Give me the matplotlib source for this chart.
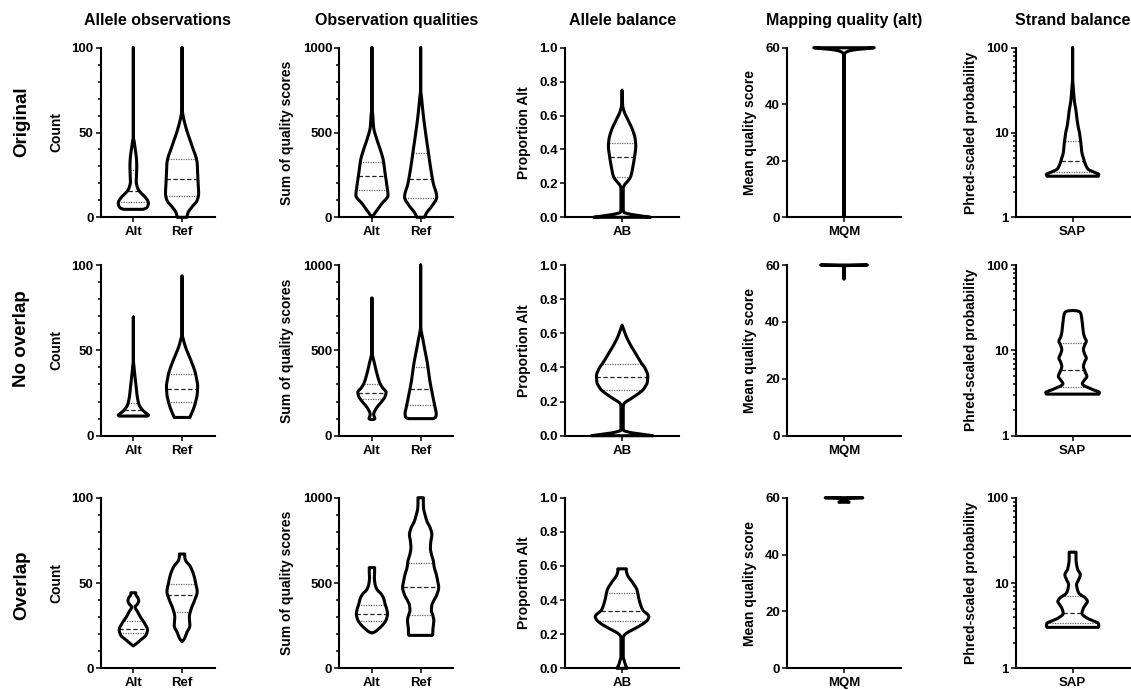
import numpy as np
import matplotlib
matplotlib.use("Agg")
import matplotlib.pyplot as plt
from matplotlib.ticker import MultipleLocator, LogLocator, NullFormatter, FixedLocator, FixedFormatter

plt.rcParams['font.family'] = ['Liberation Sans', 'DejaVu Sans']
plt.rcParams['font.weight'] = 'bold'

# ---- labels ----
row_names = ["Original", "No overlap", "Overlap"]
col_titles = ["Allele observations", "Observation qualities", "Allele balance",
              "Mapping quality (alt)", "Strand balance"]
y_labels = ["Count", "Sum of quality scores", "Proportion Alt",
            "Mean quality score", "Phred-scaled probability"]
x_cats = [["Alt", "Ref"], ["Alt", "Ref"], ["AB"], ["MQM"], ["SAP"]]

# ---- violin profiles: y value, half width (category units), quartiles ----
# Original
cnt_alt_orig_y = [4.7, 5.5, 7, 8.5, 10, 12, 14, 16, 18, 21, 25, 30, 34, 38, 42, 45, 47, 100]
cnt_alt_orig_w = [0.2, 0.27, 0.3, 0.31, 0.29, 0.24, 0.17, 0.11, 0.08, 0.06, 0.065, 0.07, 0.065, 0.05, 0.03, 0.015, 0.0, 0.0]
cnt_alt_orig_q = [8.8, 15.7, 27.9]
cnt_ref_orig_y = [0, 2.5, 6, 10, 14, 20, 26, 32, 36, 40, 45, 50, 55, 60, 65, 100]
cnt_ref_orig_w = [0.1, 0.12, 0.2, 0.31, 0.34, 0.33, 0.32, 0.31, 0.28, 0.23, 0.17, 0.11, 0.06, 0.02, 0.0, 0.0]
cnt_ref_orig_q = [12.8, 22.8, 34.2]
qual_alt_orig_y = [0, 40, 80, 130, 180, 260, 340, 400, 460, 530, 610, 650, 1000]
qual_alt_orig_w = [0.0, 0.1, 0.2, 0.33, 0.31, 0.27, 0.23, 0.17, 0.1, 0.035, 0.015, 0.0, 0.0]
qual_alt_orig_q = [161, 244, 326]
qual_ref_orig_y = [0, 25, 70, 120, 200, 300, 400, 500, 600, 700, 760, 1000]
qual_ref_orig_w = [0.08, 0.12, 0.24, 0.33, 0.26, 0.2, 0.15, 0.1, 0.055, 0.02, 0.0, 0.0]
qual_ref_orig_q = [116, 228, 381]
ab_orig_y = [0, 0.01, 0.02, 0.03, 0.05, 0.17, 0.19, 0.21, 0.24, 0.3, 0.36, 0.42, 0.46, 0.51, 0.57, 0.62, 0.66, 0.75]
ab_orig_w = [0.5, 0.3, 0.12, 0.03, 0.02, 0.02, 0.04, 0.09, 0.15, 0.19, 0.22, 0.24, 0.23, 0.19, 0.11, 0.04, 0.01, 0.0]
ab_orig_q = [0.237, 0.355, 0.438]
mqm_orig_y = [0.5, 57.5, 58.0, 58.3, 58.8, 59.3, 59.7, 60]
mqm_orig_w = [0.0, 0.0, 0.01, 0.03, 0.08, 0.2, 0.4, 0.53]
mqm_orig_q = [60, 60, 60]
sap_orig_y = [3.05, 3.2, 3.4, 3.7, 4.0, 4.5, 5.0, 5.5, 6.0, 7.0, 8.0, 9.0, 10.0, 11.5, 14, 18, 24, 32, 45, 100]
sap_orig_w = [0.45, 0.46, 0.38, 0.27, 0.24, 0.21, 0.19, 0.17, 0.16, 0.15, 0.14, 0.13, 0.12, 0.1, 0.08, 0.06, 0.03, 0.015, 0.0, 0.0]
sap_orig_q = [3.39, 4.66, 7.94]

# No overlap
cnt_alt_noov_y = [11.5, 12, 13, 15, 18, 23, 28, 33, 40, 45, 69.5]
cnt_alt_noov_w = [0.29, 0.31, 0.27, 0.19, 0.12, 0.08, 0.06, 0.04, 0.015, 0.0, 0.0]
cnt_alt_noov_q = [12.1, 15.0, 19.0]
cnt_ref_noov_y = [10.7, 12, 14, 17, 20, 24, 29, 33, 37, 42, 47, 52, 56, 60, 93.5]
cnt_ref_noov_w = [0.16, 0.18, 0.21, 0.25, 0.28, 0.31, 0.32, 0.3, 0.27, 0.21, 0.14, 0.07, 0.03, 0.0, 0.0]
cnt_ref_noov_q = [19.9, 27.1, 35.9]
qual_alt_noov_y = [95, 100, 110, 125, 140, 165, 200, 230, 255, 280, 310, 345, 420, 500, 806]
qual_alt_noov_w = [0.03, 0.06, 0.05, 0.035, 0.05, 0.1, 0.2, 0.27, 0.29, 0.22, 0.16, 0.12, 0.055, 0.0, 0.0]
qual_alt_noov_q = [213, 251, 305]
qual_ref_noov_y = [100, 110, 130, 160, 230, 320, 420, 550, 650, 1000]
qual_ref_noov_w = [0.26, 0.31, 0.32, 0.3, 0.25, 0.19, 0.14, 0.055, 0.0, 0.0]
qual_ref_noov_q = [178, 275, 400]
ab_noov_y = [0, 0.01, 0.02, 0.033, 0.05, 0.17, 0.186, 0.2, 0.22, 0.25, 0.27, 0.29, 0.31, 0.35,
             0.39, 0.43, 0.48, 0.53, 0.58, 0.62, 0.648]
ab_noov_w = [0.54, 0.32, 0.13, 0.02, 0.02, 0.02, 0.03, 0.075, 0.17, 0.3, 0.37, 0.41, 0.44, 0.45,
             0.41, 0.33, 0.24, 0.15, 0.075, 0.03, 0.0]
ab_noov_q = [0.267, 0.345, 0.418]
mqm_noov_y = [55.1, 59.7, 60]
mqm_noov_w = [0.0, 0.0, 0.41]
mqm_noov_q = [60, 60, 60]
sap_noov_y = [3.07, 3.2, 3.5, 4.05, 4.5, 4.95, 5.6, 6.5, 7.3, 8.1, 9.1, 10.2, 11.5, 12.8, 14.3, 16.1,
              21, 26, 28, 29, 29.3]
sap_noov_w = [0.46, 0.47, 0.34, 0.17, 0.21, 0.25, 0.22, 0.19, 0.21, 0.24, 0.21, 0.19, 0.21, 0.24, 0.21, 0.19,
              0.17, 0.15, 0.13, 0.08, 0.0]
sap_noov_q = [3.77, 5.92, 12.2]

# Overlap
cnt_alt_ov_y = [13.1, 14.3, 16.6, 19.5, 22.5, 26.4, 30.3, 33, 36, 37.5, 39.5, 41.5, 43, 44.3]
cnt_alt_ov_w = [0.0, 0.055, 0.15, 0.26, 0.29, 0.23, 0.14, 0.09, 0.035, 0.08, 0.11, 0.09, 0.055, 0.05]
cnt_alt_ov_q = [20.5, 23.2, 27.9]
cnt_ref_ov_y = [15.6, 17, 21, 25, 30, 35, 40, 44.9, 49.8, 54.7, 59.6, 63.5, 65.5, 67]
cnt_ref_ov_w = [0.0, 0.04, 0.1, 0.16, 0.15, 0.19, 0.26, 0.31, 0.28, 0.24, 0.17, 0.07, 0.055, 0.055]
cnt_ref_ov_q = [33.2, 43.2, 49.4]
qual_alt_ov_y = [207, 213, 232, 261, 290, 319, 350, 377, 410, 435, 464, 500, 532, 570, 590]
qual_alt_ov_w = [0.0, 0.055, 0.14, 0.24, 0.3, 0.32, 0.3, 0.27, 0.24, 0.19, 0.1, 0.06, 0.05, 0.055, 0.055]
qual_alt_ov_q = [280, 321, 371]
qual_ref_ov_y = [193, 200, 222, 250, 280, 310, 338, 370, 397, 430, 474, 510, 551, 590, 629, 670, 706,
                 745, 783, 820, 861, 900, 938, 970, 1000]
qual_ref_ov_w = [0.24, 0.25, 0.25, 0.26, 0.27, 0.25, 0.22, 0.23, 0.27, 0.33, 0.37, 0.35, 0.32, 0.28, 0.26,
                 0.22, 0.2, 0.21, 0.23, 0.2, 0.13, 0.09, 0.06, 0.055, 0.055]
qual_ref_ov_q = [313, 474, 615]
ab_ov_y = [0, 0.02, 0.047, 0.067, 0.18, 0.19, 0.205, 0.234, 0.264, 0.285, 0.303, 0.343, 0.4, 0.46,
           0.5, 0.55, 0.57, 0.583]
ab_ov_w = [0.09, 0.06, 0.035, 0.02, 0.02, 0.03, 0.075, 0.23, 0.38, 0.45, 0.47, 0.36, 0.3, 0.26,
           0.19, 0.09, 0.075, 0.075]
ab_ov_q = [0.28, 0.337, 0.439]
mqm_ov_y = [58.4, 58.7, 59.3, 59.75, 60]
mqm_ov_w = [0.09, 0.07, 0.02, 0.05, 0.33]
mqm_ov_q = [60, 60, 60]
sap_ov_y = [3.02, 3.15, 3.37, 3.6, 3.86, 4.4, 5.08, 5.6, 6.08, 6.6, 7.6, 8.6, 9.6, 10.9, 12.5, 14.4,
            16.5, 18.9, 23]
sap_ov_w = [0.45, 0.46, 0.45, 0.36, 0.26, 0.165, 0.19, 0.23, 0.26, 0.23, 0.11, 0.08, 0.07, 0.105,
            0.135, 0.09, 0.07, 0.06, 0.06]
sap_ov_q = [3.37, 4.5, 6.96]

violins = [
    [[(cnt_alt_orig_y, cnt_alt_orig_w, cnt_alt_orig_q), (cnt_ref_orig_y, cnt_ref_orig_w, cnt_ref_orig_q)],
     [(qual_alt_orig_y, qual_alt_orig_w, qual_alt_orig_q), (qual_ref_orig_y, qual_ref_orig_w, qual_ref_orig_q)],
     [(ab_orig_y, ab_orig_w, ab_orig_q)],
     [(mqm_orig_y, mqm_orig_w, mqm_orig_q)],
     [(sap_orig_y, sap_orig_w, sap_orig_q)]],
    [[(cnt_alt_noov_y, cnt_alt_noov_w, cnt_alt_noov_q), (cnt_ref_noov_y, cnt_ref_noov_w, cnt_ref_noov_q)],
     [(qual_alt_noov_y, qual_alt_noov_w, qual_alt_noov_q), (qual_ref_noov_y, qual_ref_noov_w, qual_ref_noov_q)],
     [(ab_noov_y, ab_noov_w, ab_noov_q)],
     [(mqm_noov_y, mqm_noov_w, mqm_noov_q)],
     [(sap_noov_y, sap_noov_w, sap_noov_q)]],
    [[(cnt_alt_ov_y, cnt_alt_ov_w, cnt_alt_ov_q), (cnt_ref_ov_y, cnt_ref_ov_w, cnt_ref_ov_q)],
     [(qual_alt_ov_y, qual_alt_ov_w, qual_alt_ov_q), (qual_ref_ov_y, qual_ref_ov_w, qual_ref_ov_q)],
     [(ab_ov_y, ab_ov_w, ab_ov_q)],
     [(mqm_ov_y, mqm_ov_w, mqm_ov_q)],
     [(sap_ov_y, sap_ov_w, sap_ov_q)]],
]

# ---- layout (pixels of the 1131x690 picture) ----
W, H = 1131, 690
col_left = [100.7, 339.3, 565.1, 787.0, 1015.6]
col_width = 114
row_top = [47.7, 265.0, 497.7]
row_bottom = [217.3, 435.7, 668.3]
row_label_y = [122, 339, 585]


def pchip(x, y, xn):
    # monotone cubic through the read-off points, so the outline is smooth without overshoot
    h = np.diff(x)
    d = np.diff(y) / h
    m = np.zeros_like(y)
    m[0], m[-1] = d[0], d[-1]
    for k in range(1, len(y) - 1):
        if d[k - 1] * d[k] > 0:
            w1 = 2 * h[k] + h[k - 1]
            w2 = h[k] + 2 * h[k - 1]
            m[k] = (w1 + w2) / (w1 / d[k - 1] + w2 / d[k])
    i = np.clip(np.searchsorted(x, xn) - 1, 0, len(h) - 1)
    s = (xn - x[i]) / h[i]
    h00 = 2 * s**3 - 3 * s**2 + 1
    h10 = s**3 - 2 * s**2 + s
    h01 = -2 * s**3 + 3 * s**2
    h11 = s**3 - s**2
    return h00 * y[i] + h10 * h[i] * m[i] + h01 * y[i + 1] + h11 * h[i] * m[i + 1]


def draw_violin(ax, pos, y, w, q, logy=False):
    y = np.asarray(y, float)
    w = np.asarray(w, float)
    t = np.log10(y) if logy else y
    tn = np.unique(np.concatenate([np.linspace(t[0], t[-1], 500), t]))
    wn = np.clip(pchip(t, w, tn), 0, None)
    yn = 10**tn if logy else tn
    xs = np.concatenate([pos - wn, (pos + wn)[::-1]])
    ys = np.concatenate([yn, yn[::-1]])
    ax.fill(xs, ys, facecolor='white', edgecolor='none', zorder=2, clip_on=False)
    for k, val in enumerate(q):
        tv = np.log10(val) if logy else val
        hw = np.interp(tv, tn, wn)
        if k == 1:
            ax.plot([pos - hw, pos + hw], [val, val], color='#222222', lw=0.9,
                    ls=(0, (3.5, 2)), zorder=3, clip_on=False)
        else:
            ax.plot([pos - hw, pos + hw], [val, val], color='#666666', lw=0.9,
                    ls=(0, (1, 1)), zorder=3, clip_on=False)
    ax.fill(xs, ys, facecolor='none', edgecolor='black', lw=2.2, joinstyle='round',
            zorder=4, clip_on=False)


fig = plt.figure(figsize=(W / 100, H / 100), dpi=100)

for r in range(3):
    for c in range(5):
        ax = fig.add_axes([col_left[c] / W, 1 - row_bottom[r] / H,
                           col_width / W, (row_bottom[r] - row_top[r]) / H])
        cats = x_cats[c]
        logy = (c == 4)
        if len(cats) == 2:
            ax.set_xlim(-0.67, 1.67)
        else:
            ax.set_xlim(-1, 1)
        for i, (vy, vw, vq) in enumerate(violins[r][c]):
            draw_violin(ax, i, vy, vw, vq, logy)

        if c == 0:
            ax.set_ylim(0, 100)
            ax.set_yticks([0, 50, 100])
            ax.yaxis.set_minor_locator(MultipleLocator(10))
        elif c == 1:
            ax.set_ylim(0, 1000)
            ax.set_yticks([0, 500, 1000])
            ax.yaxis.set_minor_locator(MultipleLocator(100))
        elif c == 2:
            ax.set_ylim(0, 1)
            ax.set_yticks([0, 0.2, 0.4, 0.6, 0.8, 1.0])
            ax.set_yticklabels(["0.0", "0.2", "0.4", "0.6", "0.8", "1.0"])
        elif c == 3:
            ax.set_ylim(0, 60)
            ax.set_yticks([0, 20, 40, 60])
        else:
            ax.set_yscale('log')
            ax.set_ylim(1, 100)
            ax.yaxis.set_major_locator(FixedLocator([1, 10, 100]))
            ax.yaxis.set_major_formatter(FixedFormatter(["1", "10", "100"]))
            ax.yaxis.set_minor_locator(LogLocator(base=10, subs=np.arange(2, 10)))
            ax.yaxis.set_minor_formatter(NullFormatter())

        ax.set_xticks(range(len(cats)))
        ax.set_xticklabels(cats)
        for s in ['top', 'right']:
            ax.spines[s].set_visible(False)
        for s in ['left', 'bottom']:
            ax.spines[s].set_linewidth(1.5)
        ax.tick_params(axis='both', which='major', length=3.6, width=1.1, labelsize=9.5, pad=1.5)
        ax.tick_params(axis='x', which='major', pad=3)
        ax.tick_params(axis='y', which='minor', length=2.2, width=1.1)
        ax.set_ylabel(y_labels[c], fontsize=10, fontweight='bold', labelpad=6)

for c in range(5):
    fig.text((col_left[c] + col_width / 2) / W, 1 - 20.7 / H, col_titles[c],
             ha='center', va='center', fontsize=11.5, fontweight='bold')
for r in range(3):
    fig.text(21.7 / W, 1 - row_label_y[r] / H, row_names[r], rotation=90,
             ha='center', va='center', fontsize=13.5, fontweight='bold')

fig.savefig("out.png", dpi=100)
